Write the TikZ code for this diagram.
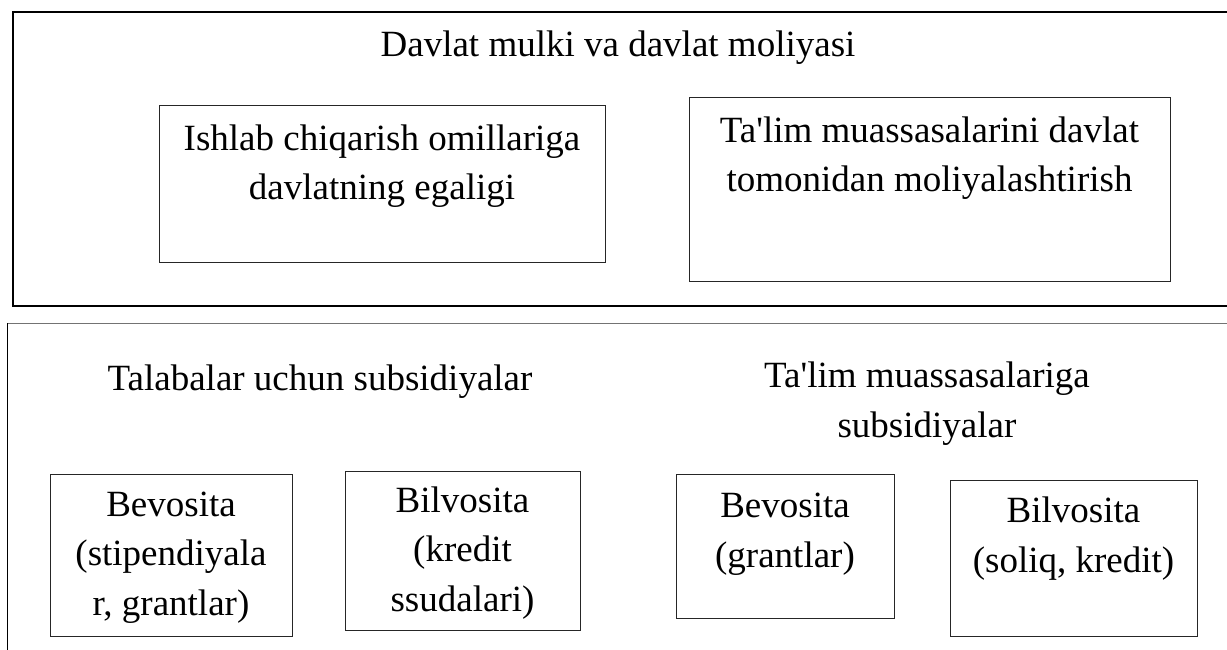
\documentclass[tikz,border=0pt]{standalone}
\usepackage{fontspec}
\setmainfont{Liberation Serif}
\usetikzlibrary{positioning}
\tikzstyle{cell} = [rectangle, draw=black!85, line width=1pt, inner sep=0pt]
\tikzstyle{caption} = [align=center, inner sep=0pt, anchor=base, font=\fontsize{37}{49.5}\selectfont]

\begin{document}
\begin{tikzpicture}[x=1pt, y=-1pt]
        \useasboundingbox (0,0) rectangle (1227,650);

        % upper frame, open on the right
        \draw[line width=1.6pt] (1227,12) -| (13,306) -- (1227,306);
        % lower frame, open on the right and below
        \draw[line width=1pt, black!55] (1227,323) -- (7,323);
        \draw[line width=1pt] (7,323) -- (7,650);

        % captions sit on the baseline of their last line
        \node[caption] (stateTitle) at (618,57) {Davlat mulki va davlat moliyasi};

        \node[cell, minimum width=446, minimum height=156] (ownership) at (382,184) {};
        \node[caption] (ownershipText) at (382,200) {Ishlab chiqarish omillariga\\davlatning egaligi};
        \node[cell, minimum width=481, minimum height=183] (funding) at (929.5,189.5) {};
        \node[caption] (fundingText) at (929.5,192) {Ta\textquotesingle lim muassasalarini davlat\\tomonidan moliyalashtirish};

        \node[caption] (studentTitle) at (320,390) {Talabalar uchun subsidiyalar};
        \node[caption] (schoolTitle) at (927,437) {Ta\textquotesingle lim muassasalariga\\subsidiyalar};

        \node[cell, minimum width=242, minimum height=162] (studentDirect) at (171,555) {};
        \node[caption] (studentDirectText) at (171,615) {Bevosita\\(stipendiyala\\r, grantlar)};
        \node[cell, minimum width=235, minimum height=159] (studentIndirect) at (462.5,550.5) {};
        \node[caption] (studentIndirectText) at (462.5,611) {Bilvosita\\(kredit\\ssudalari)};
        \node[cell, minimum width=218, minimum height=144] (schoolDirect) at (785,546) {};
        \node[caption] (schoolDirectText) at (785,567) {Bevosita\\(grantlar)};
        \node[cell, minimum width=247, minimum height=156] (schoolIndirect) at (1073.5,558) {};
        \node[caption] (schoolIndirectText) at (1073.5,572) {Bilvosita\\(soliq, kredit)};

    \end{tikzpicture}
\end{document}
